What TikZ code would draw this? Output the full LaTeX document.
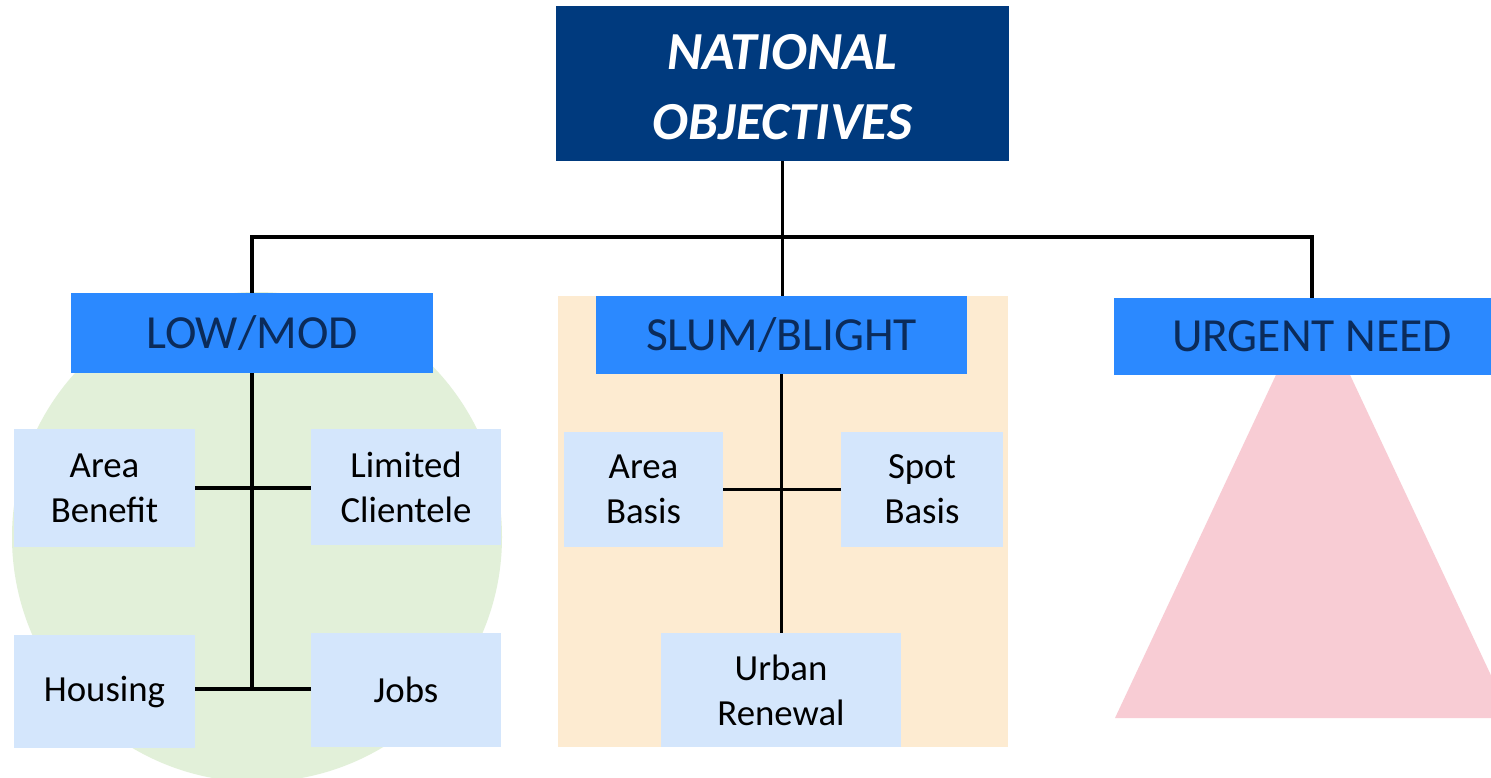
\documentclass[tikz,border=0pt]{standalone}
\usepackage{fontspec}
\setmainfont{Carlito}
\definecolor{navyA}{HTML}{003A7E}
\definecolor{blueA}{HTML}{2B89FF}
\definecolor{textA}{HTML}{0B2B5A}
\definecolor{subA}{HTML}{D4E6FC}
\definecolor{greenA}{HTML}{E2F0D9}
\definecolor{beigeA}{HTML}{FDEBD1}
\definecolor{pinkA}{HTML}{F8CCD4}
\begin{document}
\begin{tikzpicture}[x=1pt,y=-1pt,
  conn/.style={line width=3.3pt, black},
  topbox/.style={fill=navyA, minimum width=453pt, minimum height=155pt, inner sep=0pt},
  toptext/.style={text=white, inner sep=0pt, align=center, font=\fontsize{53.5}{70}\selectfont\bfseries\itshape},
  catbox/.style={fill=blueA, text=textA, inner sep=0pt, font=\fontsize{47.5}{55}\selectfont},
  subbox/.style={fill=subA, text=black, inner sep=0pt, align=center, font=\fontsize{36.8}{45}\selectfont},
]
\clip (0,0) rectangle (1491,778);
\fill[white] (0,0) rectangle (1491,778);
% background shapes
\fill[greenA] (257,537) circle[radius=245pt];
\fill[beigeA] (558,296) rectangle (1008,747);
\fill[pinkA] (1313,296) -- (1511,718) -- (1115,718) -- cycle;
% nodes
\node[topbox] (top) at (782.5,83.5) {};
\node[toptext] (toptx) at (782.5,87) {NATIONAL\\OBJECTIVES};
\node[catbox, minimum width=362pt, minimum height=80pt] (lm) at (252,333) {LOW/MOD};
\node[catbox, minimum width=371pt, minimum height=78pt] (sl) at (781.5,335) {SLUM/BLIGHT};
\node[catbox, minimum width=396pt, minimum height=77pt] (un) at (1312,336.5) {URGENT NEED};
\node[subbox, minimum width=181pt, minimum height=118pt] (ab) at (104.5,488) {Area\\Benefit};
\node[subbox, minimum width=190pt, minimum height=116pt] (lc) at (406,487) {Limited\\Clientele};
\node[subbox, minimum width=181pt, minimum height=113pt] (ho) at (104.5,691.5) {Housing};
\node[subbox, minimum width=190pt, minimum height=114pt] (jo) at (406,690) {Jobs};
\node[subbox, minimum width=159pt, minimum height=115pt] (aba) at (643.5,489.5) {Area\\Basis};
\node[subbox, minimum width=162pt, minimum height=115pt] (sba) at (922,489.5) {Spot\\Basis};
\node[subbox, minimum width=240pt, minimum height=114pt] (ur) at (781,690) {Urban\\Renewal};
% connectors
\coordinate (bar) at (783,237);
\coordinate (lmend) at (253,689);
\draw[conn] (top.south) -- (top.south |- sl.north);
\draw[conn] (lm.north) |- (bar) -| (un.north);
\draw[conn] (lm.south) -- (lm.south |- lmend);
\draw[conn] (ab.east) -- (ab.east -| lc.west);
\draw[conn] (ho.east |- lmend) -- (jo.west |- lmend);
\draw[conn] (sl.south) -- (sl.south |- ur.north);
\draw[conn] (aba.east) -- (sba.west);
\end{tikzpicture}
\end{document}
